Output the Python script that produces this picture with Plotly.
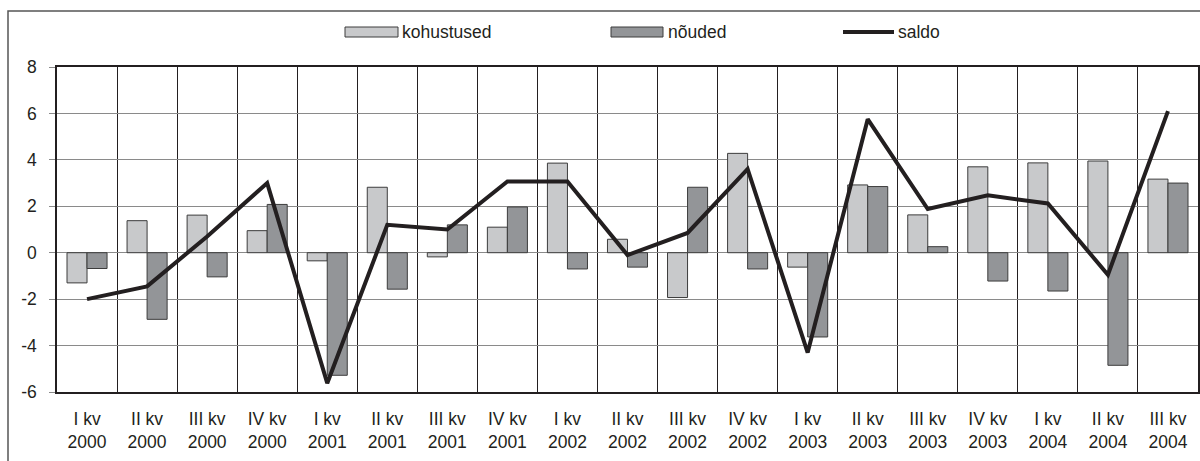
import plotly.graph_objects as go

kvartalid = ["I kv", "II kv", "III kv", "IV kv"] * 4 + ["I kv", "II kv", "III kv"]
aastad = ["2000"] * 4 + ["2001"] * 4 + ["2002"] * 4 + ["2003"] * 4 + ["2004"] * 3
kategooriad = [k + "<br>" + a for k, a in zip(kvartalid, aastad)]

kohustused = [-1.30, 1.38, 1.62, 0.95, -0.35, 2.82, -0.18, 1.10, 3.86, 0.58,
              -1.93, 4.28, -0.62, 2.92, 1.63, 3.70, 3.87, 3.95, 3.17]
noudmed = [-0.68, -2.87, -1.04, 2.08, -5.28, -1.57, 1.20, 1.97, -0.70, -0.62,
           2.82, -0.70, -3.63, 2.85, 0.26, -1.22, -1.65, -4.85, 3.00]
saldo = [-2.00, -1.45, 0.70, 3.00, -5.62, 1.20, 1.00, 3.07, 3.07, -0.10,
         0.85, 3.60, -4.30, 5.75, 1.88, 2.47, 2.12, -0.95, 6.10]

y_ticks = [-6, -4, -2, 0, 2, 4, 6, 8]
y_labels = ["-6", "-4", "-2", "0", "2", "4", "6", "8"]

FONT = "Liberation Sans, Arial, sans-serif"
W, H = 1200, 461
ML, MR, MT, MB = 57, 2, 67, 69


# pixel -> paper helpers (for legend and frame only)
def px(x):
    return (x - ML) / (W - ML - MR)


def py(y):
    return (H - MB - y) / (H - MT - MB)


fig = go.Figure()
fig.add_trace(go.Bar(x=kategooriad, y=kohustused, name="kohustused",
                     marker=dict(color="#c8c9cb", line=dict(color="#3c3c3c", width=1))))
fig.add_trace(go.Bar(x=kategooriad, y=noudmed, name="nõuded",
                     marker=dict(color="#939598", line=dict(color="#3c3c3c", width=1))))
fig.add_trace(go.Scatter(x=kategooriad, y=saldo, name="saldo", mode="lines",
                         line=dict(color="#231f20", width=4)))

# hand-made legend, Excel style
shapes = [
    dict(type="rect", xref="paper", yref="paper", x0=px(345), x1=px(398), y0=py(37), y1=py(27),
         fillcolor="#c8c9cb", line=dict(color="#3c3c3c", width=1)),
    dict(type="rect", xref="paper", yref="paper", x0=px(611), x1=px(663), y0=py(37), y1=py(27),
         fillcolor="#939598", line=dict(color="#3c3c3c", width=1)),
    dict(type="line", xref="paper", yref="paper", x0=px(843), x1=px(894), y0=py(32), y1=py(32),
         line=dict(color="#231f20", width=4)),
    # outer frame
    dict(type="rect", xref="paper", yref="paper", x0=px(8), x1=px(1215), y0=py(475), y1=py(11),
         line=dict(color="#555555", width=1.5), fillcolor="rgba(0,0,0,0)", layer="below"),
]
annotations = []
for txt, x in [("kohustused", 400), ("nõuded", 666), ("saldo", 896)]:
    annotations.append(dict(text=txt, x=px(x), y=py(32), xref="paper", yref="paper",
                            xanchor="left", yanchor="middle", showarrow=False,
                            font=dict(size=17.5, color="#231f20", family=FONT)))

fig.update_layout(
    width=W, height=H,
    margin=dict(l=ML, r=MR, t=MT, b=MB, autoexpand=False),
    paper_bgcolor="white", plot_bgcolor="white",
    barmode="group", bargap=0.333, bargroupgap=0,
    showlegend=False,
    shapes=shapes, annotations=annotations,
    font=dict(family=FONT, size=17.5, color="#231f20"),
)
fig.update_xaxes(
    type="category", tickson="boundaries", ticks="", automargin=False,
    showgrid=True, gridcolor="#231f20", gridwidth=1,
    showline=True, linecolor="#231f20", linewidth=2, mirror=True,
    ticklabelstandoff=10,
)
fig.update_yaxes(
    range=[-6, 8], tickvals=y_ticks, ticktext=y_labels, automargin=False,
    ticks="outside", ticklen=6, tickcolor="#8a8a8a", ticklabelstandoff=9,
    showgrid=True, gridcolor="#8a8a8a", gridwidth=1.3,
    zeroline=True, zerolinecolor="#8a8a8a", zerolinewidth=1.3,
    showline=True, linecolor="#231f20", linewidth=1.5, mirror=True,
)

# page body has a default 8px margin; drop it so the figure sits at 0,0
fig.write_html("out.html", config={"displayModeBar": False},
               post_script="document.body.style.margin = '0';")
